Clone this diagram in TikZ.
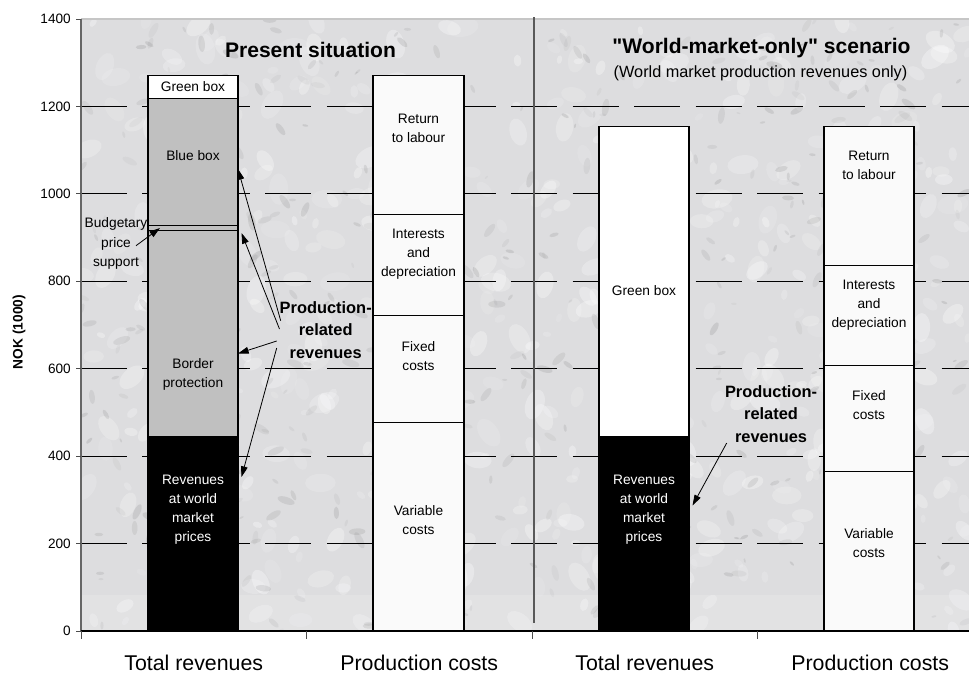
\documentclass[tikz,border=0pt]{standalone}
\usepackage{fontspec}
\setmainfont{Liberation Sans}[Ligatures=TeXOff]
\usetikzlibrary{arrows.meta}
\definecolor{bgc}{RGB}{221,221,223}
\definecolor{silverc}{RGB}{192,192,192}
\definecolor{costc}{RGB}{250,250,250}
\begin{document}
\begin{tikzpicture}[x=0.75pt,y=-0.75pt,
  seg/.style={draw=black,line width=0.8pt},
  bartext/.style={font=\fontsize{10.3}{14.3}\selectfont,align=center,inner sep=0pt},
  lbl/.style={font=\bfseries\fontsize{12.3}{16.9}\selectfont,align=center,inner sep=0pt},
  arr/.style={-{Triangle[length=8pt,width=5pt]},line width=0.6pt},
  ticklbl/.style={font=\fontsize{10.2}{12}\selectfont,anchor=east,inner sep=0pt},
  cat/.style={font=\fontsize{16}{19}\selectfont,anchor=base,inner sep=0pt},
  gridline/.style={line width=0.6pt,dash pattern=on 34.5pt off 11.6pt}]
\useasboundingbox (0,0) rectangle (969,676);
% background texture
\begin{scope}
\clip (81,19) rectangle (969,631);
\fill[bgc] (81,19) rectangle (969,631);
\pgfmathsetseed{42}
\foreach \i in {1,...,520}{
  \pgfmathsetmacro\xx{81+888*rnd}
  \pgfmathsetmacro\yy{19+612*rnd}
  \pgfmathsetmacro\rr{4+12*rnd}
  \pgfmathsetmacro\op{0.10+0.22*rnd}
  \pgfmathsetmacro\ang{180*rnd}
  \fill[white,opacity=\op,rotate around={\ang:(\xx,\yy)}] (\xx,\yy) ellipse [x radius=\rr, y radius=0.6*\rr];
}
\foreach \i in {1,...,420}{
  \pgfmathsetmacro\xx{81+888*rnd}
  \pgfmathsetmacro\yy{19+612*rnd}
  \pgfmathsetmacro\rr{2+7*rnd}
  \pgfmathsetmacro\op{0.05+0.12*rnd}
  \pgfmathsetmacro\ang{180*rnd}
  \fill[black!60,opacity=\op,rotate around={\ang:(\xx,\yy)}] (\xx,\yy) ellipse [x radius=\rr, y radius=0.4*\rr];
}
\fill[white,opacity=0.15] (81,595) rectangle (969,631);
\end{scope}
% frame
\draw[gray!45,line width=0.8pt] (81,19) -- (969,19);
% gridlines
\foreach \yy in {543.57,456.14,368.71,281.29,193.86,106.43}{
  \draw[gridline] (81,\yy) -- (969,\yy);
}
% separator
\draw[black!65,line width=0.8pt] (534,17) -- (534,623);
% axes
\draw[black!60,line width=0.9pt] (81,19) -- (81,631);
\draw[black,line width=0.9pt] (81,631) -- (969,631);
\foreach \yy/\lab in {631/0,543.57/200,456.14/400,368.71/600,281.29/800,193.86/1000,106.43/1200,19/1400}{
  \draw[black!70,line width=0.7pt] (76,\yy) -- (81,\yy);
  \node[ticklbl] (tk\lab) at (71,\yy) {\lab};
}
\foreach \xx in {81,306.5,532,757.5}{
  \draw[black!70,line width=0.7pt] (\xx,631) -- (\xx,639);
}
% bar 1: present total revenues
\filldraw[seg,fill=black] (148,436.47) rectangle (238,631);
\filldraw[seg,fill=silverc] (148,230.58) rectangle (238,436.47);
\filldraw[seg,fill=silverc] (148,225.33) rectangle (238,230.58);
\filldraw[seg,fill=silverc] (148,98.56) rectangle (238,225.33);
\filldraw[seg,fill=white] (148,75.83) rectangle (238,98.56);
% bar 2: present production costs
\filldraw[seg,fill=costc] (373,422.05) rectangle (464,631);
\filldraw[seg,fill=costc] (373,315.38) rectangle (464,422.05);
\filldraw[seg,fill=costc] (373,214.84) rectangle (464,315.38);
\filldraw[seg,fill=costc] (373,75.83) rectangle (464,214.84);
% bar 3: scenario total revenues
\filldraw[seg,fill=black] (599,436.47) rectangle (689,631);
\filldraw[seg,fill=white] (599,126.54) rectangle (689,436.47);
% bar 4: scenario production costs
\filldraw[seg,fill=costc] (824,471.88) rectangle (914,631);
\filldraw[seg,fill=costc] (824,365.66) rectangle (914,471.88);
\filldraw[seg,fill=costc] (824,265.11) rectangle (914,365.66);
\filldraw[seg,fill=costc] (824,126.54) rectangle (914,265.11);
% bar texts
\node[bartext] (gb1) at (193,87) {Green box};
\node[bartext] (bb1) at (193,156) {Blue box};
\node[bartext] (bp1) at (193,374) {Border\\protection};
\node[bartext,text=white] (rw1) at (193,510) {Revenues\\at world\\market\\prices};
\node[bartext] (rl2) at (418.5,128.5) {Return\\to labour};
\node[bartext] (id2) at (418.5,254) {Interests\\and\\depreciation};
\node[bartext] (fc2) at (418.5,356) {Fixed\\costs};
\node[bartext] (vc2) at (418.5,520) {Variable\\costs};
\node[bartext] (gb3) at (644,291) {Green box};
\node[bartext,text=white] (rw3) at (644,510) {Revenues\\at world\\market\\prices};
\node[bartext] (rl4) at (869,165.5) {Return\\to labour};
\node[bartext] (id4) at (869,305) {Interests\\and\\depreciation};
\node[bartext] (fc4) at (869,405) {Fixed\\costs};
\node[bartext] (vc4) at (869,543) {Variable\\costs};
% budgetary label
\node[bartext] (bps) at (116,243.5) {Budgetary\\price\\support};
\coordinate (bpsS) at (136,245.7);
\coordinate (bpsT) at (160,228);
\draw[arr] (bpsS) -- (bpsT);
% production-related revenues (left)
\node[lbl] (prl) at (325.7,330) {Production-\\related\\revenues};
\coordinate (s1) at (280.7,320.7);
\coordinate (s2) at (279.5,329);
\coordinate (s3) at (276.7,341);
\coordinate (s4) at (276.7,348);
\coordinate (t1) at (238,169);
\coordinate (t2) at (241.5,233);
\coordinate (t3) at (238,353.5);
\coordinate (t4) at (241.5,477);
\draw[arr] (s1) -- (t1);
\draw[arr] (s2) -- (t2);
\draw[arr] (s3) -- (t3);
\draw[arr] (s4) -- (t4);
% production-related revenues (right)
\node[lbl] (prr) at (771,414) {Production-\\related\\revenues};
\coordinate (s5) at (726.7,443);
\coordinate (t5) at (692.5,505.5);
\draw[arr] (s5) -- (t5);
% titles
\node[font=\bfseries\fontsize{15.8}{19}\selectfont,anchor=base,inner sep=0pt] (tit1) at (310.5,57) {Present situation};
\node[font=\bfseries\fontsize{15.8}{19}\selectfont,anchor=base,inner sep=0pt] (tit2) at (761.5,53.5) {"World-market-only" scenario};
\node[font=\fontsize{12.2}{14}\selectfont,anchor=base,inner sep=0pt] (sub2) at (760.5,77) {(World market production revenues only)};
% axis title
\node[font=\bfseries\fontsize{10.3}{12}\selectfont,rotate=90,inner sep=0pt] (ytit) at (19,332) {NOK (1000)};
% category labels
\node[cat] (c1) at (193.75,670.5) {Total revenues};
\node[cat] (c2) at (419.25,670.5) {Production costs};
\node[cat] (c3) at (644.75,670.5) {Total revenues};
\node[cat] (c4) at (870.25,670.5) {Production costs};
\end{tikzpicture}
\end{document}
